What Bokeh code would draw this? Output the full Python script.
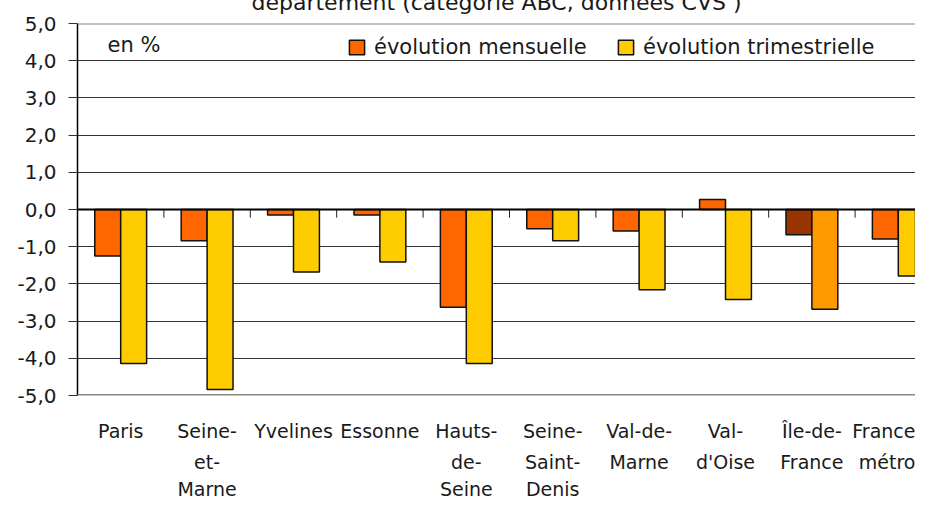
import numpy as np
from bokeh.plotting import figure
from bokeh.models import (ColumnDataSource, Range1d, FixedTicker, Span, Label,
                          Legend, LegendItem, LinearAxis)
from bokeh.transform import dodge
from bokeh.embed import file_html
from bokeh.resources import INLINE

# ---------------- data ----------------
title_text = "département (catégorie ABC, données CVS )"
unit_text = "en %"
categories = ["Paris", "Seine-\net-\nMarne", "Yvelines", "Essonne",
              "Hauts-\nde-\nSeine", "Seine-\nSaint-\nDenis", "Val-de-\nMarne",
              "Val-\nd'Oise", "Île-de-\nFrance", "France\nmétro"]
series_names = ["évolution mensuelle", "évolution trimestrielle"]
mensuelle = [-1.25, -0.84, -0.15, -0.15, -2.63, -0.52, -0.58, 0.27, -0.68, -0.79]
trimestrielle = [-4.14, -4.84, -1.68, -1.41, -4.14, -0.84, -2.16, -2.42, -2.68, -1.79]
y_ticks = [5, 4, 3, 2, 1, 0, -1, -2, -3, -4, -5]
y_tick_labels = ["5,0", "4,0", "3,0", "2,0", "1,0", "0,0",
                 "-1,0", "-2,0", "-3,0", "-4,0", "-5,0"]

# ---------------- styles ----------------
FONT = "DejaVu Sans"
TXT = "#1a1a1a"
highlight = categories.index("Île-de-\nFrance")
n = len(categories)
col_m = ["#993300" if i == highlight else "#FF6600" for i in range(n)]
col_t = ["#FF9900" if i == highlight else "#FFCC00" for i in range(n)]

xs = np.arange(n) + 0.5
src = ColumnDataSource(dict(x=xs, m=mensuelle, t=trimestrielle, cm=col_m, ct=col_t))

W, H = 915, 502
LEFT, TOP, BOTTOM = 77, 20, 105
px_per_cat = 86.4
p = figure(width=W, height=H,
           x_range=Range1d(0, (W - LEFT) / px_per_cat), y_range=Range1d(-5, 5),
           output_backend="svg", toolbar_location=None, x_axis_location=None,
           min_border_left=LEFT, min_border_right=0, min_border_top=TOP,
           min_border_bottom=BOTTOM)
p.outline_line_color = None
p.background_fill_color = "white"
p.border_fill_color = "white"
p.xgrid.visible = False

# (cut) title, as in the original: pushed up against the top edge
p.title.text = title_text
p.title.align = "center"
p.title.offset = 34
p.title.text_font = FONT
p.title.text_font_size = "22px"
p.title.text_font_style = "normal"
p.title.text_color = TXT
p.title.standoff = -26
p.title.vertical_align = "bottom"
spacer = LinearAxis(ticker=FixedTicker(ticks=[float(xs[0])]),
                    major_label_overrides={float(xs[0]): " "},
                    major_label_text_font_size="1px", major_label_standoff=18,
                    major_tick_out=0, major_tick_in=0, minor_tick_out=0, minor_tick_in=0,
                    axis_line_color=None, major_tick_line_color=None,
                    minor_tick_line_color=None)
p.above = [spacer] + list(p.above)

# y axis
p.yaxis.ticker = FixedTicker(ticks=y_ticks)
p.yaxis.major_label_overrides = {t: l for t, l in zip(y_ticks, y_tick_labels)}
p.yaxis.major_label_text_font = FONT
p.yaxis.major_label_text_font_size = "20px"
p.yaxis.major_label_text_color = TXT
p.yaxis.major_label_standoff = 12
p.yaxis.major_tick_out = 9
p.yaxis.major_tick_in = 0
p.yaxis.minor_tick_out = 0
p.yaxis.minor_tick_in = 0
p.yaxis.axis_line_color = "black"
p.yaxis.axis_line_width = 1.5
p.yaxis.major_tick_line_color = "#333333"
p.ygrid.ticker = FixedTicker(ticks=y_ticks)
p.ygrid.grid_line_color = "#333333"
p.ygrid.grid_line_width = 1

# category labels: one stacked axis per text line
parts = [c.split("\n") for c in categories]
for k, standoff in enumerate([24, 6, 2]):
    ax = LinearAxis(ticker=FixedTicker(ticks=list(xs)),
                    major_label_overrides={float(x): (pt[k] if k < len(pt) else " ")
                                           for x, pt in zip(xs, parts)},
                    axis_line_color=None, major_tick_line_color=None,
                    minor_tick_line_color=None, major_tick_out=0, major_tick_in=0,
                    minor_tick_out=0, minor_tick_in=0, major_label_standoff=standoff,
                    major_label_text_font=FONT, major_label_text_font_size="19px",
                    major_label_text_line_height=1.0,
                    major_label_text_color=TXT)
    p.add_layout(ax, "below")

# top / bottom frame lines
p.add_layout(Span(location=y_ticks[0], dimension="width", line_color="#858585", line_width=2))
p.add_layout(Span(location=y_ticks[-1], dimension="width", line_color="#888888", line_width=3))

# bars
r1 = p.vbar(x=dodge("x", -0.15, range=p.x_range), top="m", width=0.3, source=src,
            fill_color="cm", line_color="#111111", line_width=1.5)
r2 = p.vbar(x=dodge("x", 0.15, range=p.x_range), top="t", width=0.3, source=src,
            fill_color="ct", line_color="#111111", line_width=1.5)

# zero axis line with category separators
p.add_layout(Span(location=0, dimension="width", line_color="black", line_width=2))
bounds = np.arange(1, n)
p.segment(x0=bounds, x1=bounds, y0=0, y1=-0.22, line_color="#222222", line_width=1)

# legend
legend = Legend(items=[LegendItem(label=series_names[0], renderers=[r1], index=0),
                       LegendItem(label=series_names[1], renderers=[r2], index=0)],
                orientation="horizontal", location=(270, 336),
                background_fill_color="white", background_fill_alpha=1.0,
                border_line_color=None, padding=9, spacing=11, margin=0,
                glyph_width=19, glyph_height=18, label_standoff=8, label_width=231,
                label_text_font=FONT, label_text_font_size="21px",
                label_text_color=TXT)
p.add_layout(legend)

# "en %"
p.add_layout(Label(x=30, y=351, x_units="screen", y_units="screen", text=unit_text,
                   text_font=FONT, text_font_size="21px", text_color=TXT,
                   text_baseline="alphabetic"))

open("out.html", "w").write(file_html(p, INLINE))
